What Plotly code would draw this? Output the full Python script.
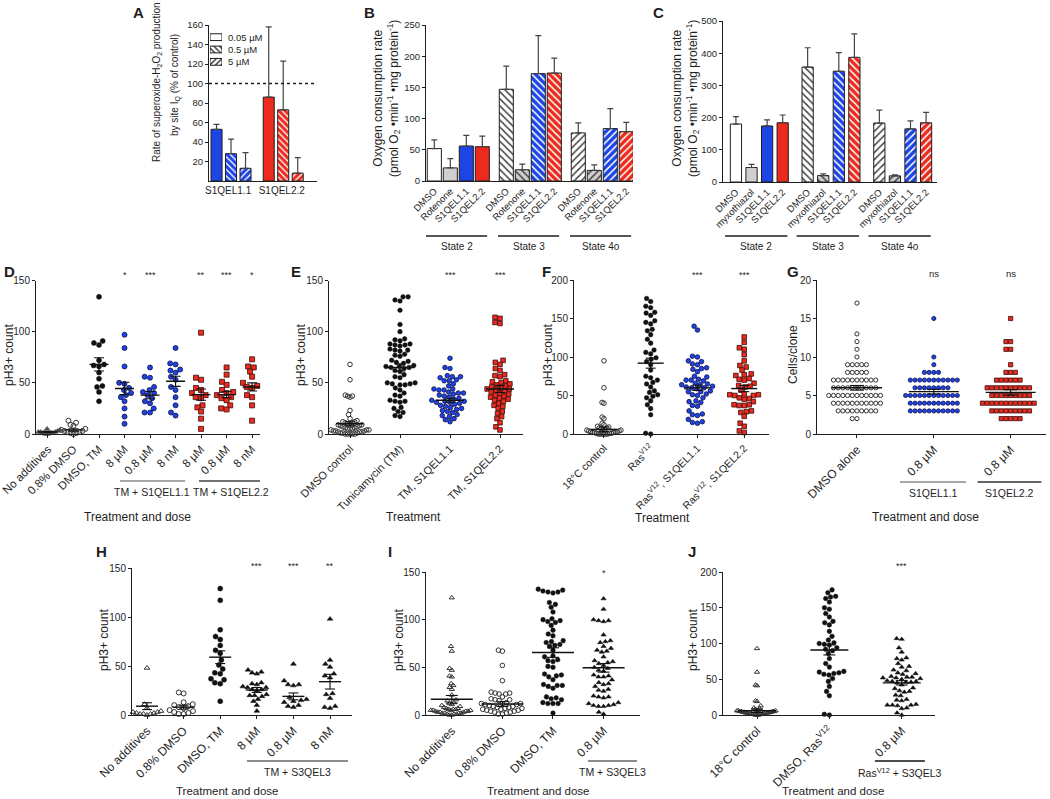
import math
import plotly.graph_objects as go

W, H = 1050, 799
FONT = "Liberation Sans, Arial, sans-serif"
BLUE = "#1d45e6"
RED = "#ec2a1d"
LGRAY = "#cfcfcf"
INK = "#1e1e1e"

# ======================= DATA =======================
# Panel A: superoxide-H2O2 production by site IQ (% of control)
A_compounds = ["S1QEL1.1", "S1QEL2.2"]
A_doses = ["0.05 µM", "0.5 µM", "5 µM"]
A_rate = [[53, 28, 13], [86, 73, 8]]
A_err = [[5, 15, 16], [72, 50, 16]]

# Panels B, C: oxygen consumption rate
BC_states = ["State 2", "State 3", "State 4o"]
B_treatments = ["DMSO", "Rotenone", "S1QEL1.1", "S1QEL2.2"]
B_rate = [[52, 21, 56, 55], [147, 18, 172, 173], [77, 17, 84, 79]]
B_err = [[14, 15, 17, 17], [37, 9, 61, 24], [16, 9, 32, 15]]
C_treatments = ["DMSO", "myxothiazol", "S1QEL1.1", "S1QEL2.2"]
C_rate = [[180, 45, 174, 184], [357, 20, 344, 387], [183, 19, 165, 184]]
C_err = [[23, 10, 19, 24], [60, 5, 58, 73], [40, 3, 25, 32]]

# Panel D
D_labels = ["No additives", "0.8% DMSO", "DMSO, TM", "8 µM", "0.8 µM", "8 nM", "8 µM", "0.8 µM", "8 nM"]
D_values = [
    [1, 2, 3, 0, 4, 2, 1, 3, 5, 2, 1, 0],
    [13, 11, 9, 8, 5, 3, 2, 1, 4, 0, 2, 3, 1],
    [134, 91, 89, 87, 72, 68, 67, 66, 60, 54, 47, 46, 41, 32],
    [97, 84, 66, 50, 49, 45, 43, 40, 38, 36, 32, 25, 17, 10],
    [65, 56, 55, 46, 43, 41, 40, 38, 35, 32, 30, 25, 21, 21],
    [84, 69, 68, 63, 62, 60, 56, 53, 46, 43, 36, 28, 21, 18],
    [99, 55, 53, 45, 43, 40, 38, 36, 35, 28, 26, 22, 15, 5],
    [65, 58, 51, 48, 43, 41, 40, 38, 36, 35, 33, 28, 25, 24],
    [73, 66, 65, 61, 56, 50, 47, 46, 45, 38, 36, 28, 13],
]
D_mean = [2, 4, 68, 44.5, 38, 51.5, 38.5, 38.5, 46]
D_sem = [0.6, 1.2, 6.5, 6, 3.5, 5, 5.5, 3, 4]
D_sig = ["", "", "", "*", "***", "", "**", "***", "*"]
D_groups = ["TM + S1QEL1.1", "TM + S1QEL2.2"]

# Panel E
E_labels = ["DMSO control", "Tunicamycin (TM)", "TM, S1QEL1.1", "TM, S1QEL2.2"]
E_values = [
    [68, 53, 38, 37, 37, 36, 23, 19, 15, 13, 12, 12, 11, 11, 10, 10, 9, 9, 8, 8, 7, 7, 6, 6, 5, 5, 5,
     4, 4, 4, 3, 3, 3, 2, 2, 2, 1, 1, 1, 0, 0, 0, 0, 0],
    [134, 134, 131, 130, 121, 107, 100, 93, 92, 91, 88, 88, 87, 87, 86, 83, 82, 82, 81, 78, 77, 76, 72,
     71, 70, 69, 67, 66, 66, 65, 65, 64, 62, 61, 58, 56, 55, 50, 50, 49, 49, 48, 48, 45, 43, 40, 38, 37,
     33, 32, 32, 31, 26, 25, 22, 21, 18, 17],
    [74, 65, 64, 57, 56, 56, 55, 53, 52, 52, 49, 47, 44, 44, 43, 43, 41, 40, 40, 39, 38, 37, 36, 35, 34,
     33, 32, 32, 31, 31, 30, 29, 28, 27, 26, 25, 24, 23, 22, 21, 19, 18, 17, 15, 14, 12],
    [114, 113, 109, 108, 72, 70, 68, 64, 62, 58, 57, 56, 52, 51, 50, 49, 48, 47, 46, 45, 44, 44, 43, 42,
     41, 40, 39, 38, 37, 36, 35, 34, 33, 32, 30, 28, 27, 25, 22, 20, 17, 15, 11, 7, 4],
]
E_mean = [10, 65, 33, 44]
E_sem = [2, 3.5, 2, 3.5]
E_sig = ["", "", "***", "***"]

# Panel F
F_labels = ["18°C control", "Ras<sup>V12</sup>", "Ras<sup>V12</sup>, S1QEL1.1", "Ras<sup>V12</sup>, S1QEL2.2"]
F_values = [
    [95, 60, 41, 40, 22, 20, 14, 12, 10, 9, 8, 8, 7, 6, 6, 5, 5, 4, 4, 3, 3, 3, 2, 2, 2, 1, 1, 1,
     0, 0, 0, 0, 0, 0],
    [176, 172, 166, 164, 158, 157, 154, 147, 145, 143, 136, 134, 129, 123, 118, 109, 106, 104, 99, 97,
     94, 90, 83, 75, 73, 70, 67, 65, 61, 56, 54, 51, 49, 47, 43, 38, 33, 25, 1, 0],
    [140, 135, 101, 100, 95, 94, 91, 90, 86, 85, 84, 81, 75, 74, 71, 70, 70, 69, 66, 65, 64, 64, 62, 61,
     60, 60, 59, 56, 55, 55, 52, 51, 50, 47, 43, 42, 41, 37, 36, 30, 26, 25, 24, 19, 16, 15, 14],
    [126, 119, 112, 110, 103, 95, 89, 87, 83, 78, 77, 76, 72, 71, 70, 66, 63, 62, 61, 57, 52, 51, 51, 50,
     50, 47, 46, 45, 42, 38, 38, 37, 37, 30, 29, 28, 23, 14, 10, 4, 2],
]
F_mean = [6, 92, 60, 59]
F_sem = [3, 6.5, 3.5, 4]
F_sig = ["", "", "***", "***"]

# Panel G
G_labels = ["DMSO alone", "0.8 µM", "0.8 µM"]
G_values = [
    [17, 13, 12, 11, 10, 9, 9, 9, 9, 9, 8, 8, 8, 8, 8, 7, 7, 7, 7, 7, 7, 7, 7, 7, 7,
     6, 6, 6, 6, 6, 6, 6, 6, 6, 6, 5, 5, 5, 5, 5, 5, 5, 5, 5, 5, 5, 5,
     4, 4, 4, 4, 4, 4, 4, 4, 4, 4, 4, 3, 3, 3, 3, 3, 3, 3, 3, 3, 2, 2],
    [15, 10, 9, 8, 8, 8, 8, 7, 7, 7, 7, 7, 7, 7, 7, 7, 7, 7, 6, 6, 6, 6, 6, 6, 6, 6,
     5, 5, 5, 5, 5, 5, 5, 5, 5, 5, 5, 5, 4, 4, 4, 4, 4, 4, 4, 4, 4, 4, 4,
     3, 3, 3, 3, 3, 3, 3, 3, 3, 3, 3],
    [15, 12, 12, 11, 11, 9, 8, 8, 8, 7, 7, 7, 7, 7, 7, 6, 6, 6, 6, 6, 6, 6, 6, 6, 6,
     5, 5, 5, 5, 5, 5, 5, 5, 5, 4, 4, 4, 4, 4, 4, 4, 4, 4, 4, 4, 4,
     3, 3, 3, 3, 3, 3, 3, 3, 3, 2, 2, 2, 2, 2],
]
G_mean = [6.0, 5.5, 5.4]
G_sem = [0.3, 0.3, 0.35]
G_sig = ["", "ns", "ns"]
G_groups = ["S1QEL1.1", "S1QEL2.2"]

# Panel H
H_labels = ["No additives", "0.8% DMSO", "DMSO, TM", "8 µM", "0.8 µM", "8 nM"]
H_values = [
    [48, 11, 7, 4, 3, 3, 2, 2, 1, 1, 1, 0],
    [23, 22, 13, 11, 10, 9, 8, 7, 5, 4, 3, 2, 1, 1],
    [129, 117, 87, 80, 77, 71, 66, 63, 56, 51, 47, 43, 42, 37, 36, 33, 32, 14],
    [46, 44, 43, 42, 33, 32, 31, 29, 28, 28, 26, 26, 25, 21, 20, 20, 19, 16, 14, 10, 4],
    [52, 35, 31, 31, 30, 18, 16, 15, 14, 13, 10, 9, 8],
    [98, 56, 52, 49, 42, 40, 38, 22, 21, 17, 9, 8, 7],
]
H_mean = [9, 8, 59, 25.5, 19, 34]
H_sem = [3.5, 2, 6.5, 2.5, 3.5, 7.5]
H_sig = ["", "", "", "***", "***", "**"]
H_group = "TM + S3QEL3"

# Panel I
I_labels = ["No additives", "0.8% DMSO", "DMSO, TM", "0.8 µM"]
I_values = [
    [123, 72, 67, 49, 47, 41, 40, 33, 31, 29, 27, 21, 16, 15, 13, 12, 11, 10, 9, 8, 7, 7, 6, 6, 6,
     5, 5, 5, 5, 4, 4, 4, 3, 3, 3, 2, 2, 2, 2, 1, 1, 1, 0, 0],
    [68, 67, 52, 36, 24, 23, 23, 22, 22, 19, 17, 16, 16, 15, 13, 12, 12, 12, 11, 11, 10, 9, 9, 8, 8,
     7, 7, 6, 6, 5, 5, 4, 4, 3, 3, 2, 1, 1],
    [132, 131, 130, 129, 129, 128, 118, 116, 113, 108, 101, 100, 99, 98, 97, 94, 89, 85, 83, 78, 77,
     76, 74, 73, 72, 68, 62, 61, 58, 57, 56, 51, 50, 43, 42, 41, 40, 37, 32, 31, 31, 30, 28, 19, 18,
     17, 16, 13, 12, 12, 12, 2],
    [122, 111, 100, 99, 99, 98, 84, 78, 77, 76, 72, 70, 68, 67, 66, 61, 57, 56, 55, 54, 52, 50, 49, 47,
     46, 42, 41, 40, 40, 37, 34, 33, 32, 30, 27, 26, 25, 20, 19, 19, 18, 13, 12, 11, 10, 10, 9, 9, 3, 1],
]
I_mean = [16.5, 11.5, 65.5, 49.5]
I_sem = [4, 2.5, 5, 4.5]
I_sig = ["", "", "", "*"]
I_group = "TM + S3QEL3"

# Panel J
J_labels = ["18°C control", "DMSO, Ras<sup>V12</sup>", "0.8 µM"]
J_values = [
    [93, 60, 42, 41, 20, 19, 13, 10, 9, 8, 7, 7, 6, 6, 6, 5, 5, 5, 5, 4, 4, 4, 4, 3, 3, 3, 3, 3,
     2, 2, 2, 2, 2, 1, 1, 1, 1, 0, 0, 0],
    [175, 171, 166, 165, 163, 158, 150, 148, 142, 137, 131, 129, 126, 117, 110, 105, 101, 100, 99, 98,
     94, 92, 90, 86, 79, 72, 67, 61, 60, 59, 58, 57, 56, 51, 47, 40, 33, 27, 1, 0],
    [107, 106, 94, 88, 80, 79, 77, 72, 68, 67, 63, 62, 59, 58, 57, 54, 53, 53, 52, 52, 51, 50, 48, 47,
     47, 46, 46, 45, 42, 38, 37, 34, 33, 32, 28, 27, 22, 21, 20, 15, 14, 14, 14, 13, 10, 9, 3, 0],
]
J_mean = [6, 91, 45]
J_sem = [2.5, 7, 3]
J_sig = ["", "", "***"]
J_group = "Ras<sup>V12</sup> + S3QEL3"

# ======================= LAYOUT HELPERS =======================
fig = go.Figure()
lay = dict(template="none", width=W, height=H, autosize=False,
           margin=dict(l=0, r=0, t=0, b=0, pad=0, autoexpand=False),
           paper_bgcolor="white", plot_bgcolor="white",
           font=dict(family=FONT, size=10, color=INK), showlegend=False)
annotations, shapes = [], []
PANELS = {}


def fx(p):
    return p / W


def fy(p):
    return 1 - p / H


def axnames(n):
    return ("x" if n == 1 else f"x{n}", "y" if n == 1 else f"y{n}",
            "xaxis" if n == 1 else f"xaxis{n}", "yaxis" if n == 1 else f"yaxis{n}")


def make_axes(n, xpx, ypx, xr, yr, xkw=None, ykw=None, yfont=9.5):
    xn, yn, xk, yk = axnames(n)
    base = dict(showgrid=False, zeroline=False, fixedrange=True, showline=True, linecolor=INK,
                linewidth=1, ticks="outside", ticklen=3, tickwidth=1, tickcolor=INK,
                automargin=False, tickfont=dict(size=yfont, color=INK, family=FONT))
    xa = dict(base)
    xa.update(domain=[fx(xpx[0]), fx(xpx[1])], range=xr, anchor=yn)
    xa.update(xkw or {})
    ya = dict(base)
    ya.update(domain=[fy(ypx[1]), fy(ypx[0])], range=yr, anchor=xn)
    ya.update(ykw or {})
    lay[xk] = xa
    lay[yk] = ya
    PANELS[n] = dict(xn=xn, yn=yn, xs=(xpx[1] - xpx[0]) / (xr[1] - xr[0]),
                     ys=(ypx[1] - ypx[0]) / (yr[1] - yr[0]))


def ann(x, y, text, size=10, angle=0, bold=False, xanchor="center", yanchor="middle", xref="paper",
        yref="paper", color=INK):
    annotations.append(dict(
        x=fx(x) if xref == "paper" else x, y=fy(y) if yref == "paper" else y, xref=xref, yref=yref,
        text=f"<b>{text}</b>" if bold else text, showarrow=False, textangle=angle,
        xanchor=xanchor, yanchor=yanchor, font=dict(size=size, color=color, family=FONT)))


def group_line(xn, x0, x1, ypx, label, color=INK, size=10.5):
    shapes.append(dict(type="line", xref=xn, yref="paper", x0=x0, x1=x1, y0=fy(ypx), y1=fy(ypx),
                       line=dict(color=color, width=1.3)))
    ann((x0 + x1) / 2, ypx + 11, label, size=size, xref=xn)


def swarm(vals, d, ys, maxw):
    ypx = [v * ys for v in vals]
    order = sorted(range(len(vals)), key=lambda i: vals[i])
    offs = [0.0] * len(vals)
    placed = []
    for i in order:
        y = ypx[i]
        intervals, cands = [], [0.0]
        for (xj, yj) in placed:
            dy = abs(y - yj)
            if dy < d:
                dx = math.sqrt(d * d - dy * dy)
                intervals.append((xj - dx, xj + dx))
                cands += [xj - dx, xj + dx]
        cands.sort(key=lambda c: (abs(c), c))
        for c in cands:
            if all(not (a + 1e-6 < c < b - 1e-6) for a, b in intervals):
                offs[i] = c
                break
        placed.append((offs[i], y))
    m = max(abs(o) for o in offs) if offs else 0
    if m > maxw:
        offs = [o * maxw / m for o in offs]
    return offs


STY = {
    "open_circle": dict(symbol="circle-open", color="#333", line=dict(width=1, color="#333")),
    "black": dict(symbol="circle", color="#111", line=dict(width=0.5, color="#111")),
    "blue": dict(symbol="circle", color=BLUE, line=dict(width=0.8, color="#0c0c4a")),
    "red": dict(symbol="square", color=RED, line=dict(width=0.8, color="#3c0c0c")),
    "tri": dict(symbol="triangle-up", color="#111", line=dict(width=0.5, color="#111")),
    "open_tri": dict(symbol="triangle-up-open", color="#333", line=dict(width=1, color="#333")),
    "gray_tri": dict(symbol="triangle-up", color="#555", line=dict(width=0.5, color="#333")),
}


def scatter_panel(n, values, means, sems, styles, labels, sig, sig_y, size, mean_hw, cap_hw, maxw,
                  ticksize=11.5):
    P = PANELS[n]
    xn, yn = P["xn"], P["yn"]
    for i, vals in enumerate(values):
        offs = swarm(vals, size + 0.5, P["ys"], maxw)
        st = STY[styles[i]]
        fig.add_trace(go.Scatter(
            x=[i + o / P["xs"] for o in offs], y=vals, mode="markers", xaxis=xn, yaxis=yn,
            cliponaxis=False, hoverinfo="skip",
            marker=dict(symbol=st["symbol"], size=size, color=st["color"], line=st["line"])))
    mx, my, sx, sy = [], [], [], []
    for i, (m, s) in enumerate(zip(means, sems)):
        hw = mean_hw / P["xs"]
        cw = cap_hw / P["xs"]
        mx += [i - hw, i + hw, None]
        my += [m, m, None]
        sx += [i - cw, i + cw, None, i, i, None, i - cw, i + cw, None]
        sy += [m + s, m + s, None, m - s, m + s, None, m - s, m - s, None]
    fig.add_trace(go.Scatter(x=mx, y=my, mode="lines", xaxis=xn, yaxis=yn, cliponaxis=False,
                             line=dict(color="#111", width=1.4), hoverinfo="skip"))
    fig.add_trace(go.Scatter(x=sx, y=sy, mode="lines", xaxis=xn, yaxis=yn, cliponaxis=False,
                             line=dict(color="#111", width=1.1), hoverinfo="skip"))
    lay[axnames(n)[2]].update(tickmode="array", tickvals=list(range(len(labels))), ticktext=labels,
                              tickangle=-45, tickfont=dict(size=ticksize, color=INK, family=FONT))
    for i, s in enumerate(sig):
        if s:
            ann(i, sig_y, s, size=9 if s != "ns" else 9.5, xref=xn)


PAT = dict(fgcolor=INK, fgopacity=1, fillmode="overlay", size=4.5, solidity=0.3)

# ======================= PANEL A =======================
make_axes(1, (209, 317), (25, 181), [-0.52, 6.93], [0, 160],
          xkw=dict(ticks="", tickmode="array", tickvals=[0.8, 4.5], ticktext=A_compounds,
                   tickfont=dict(size=10, color=INK, family=FONT)),
          ykw=dict(tickmode="array", tickvals=list(range(20, 161, 20))))
A_shapes = ["", "\\", "/"]
ax, ay, ae, ac, ap = [], [], [], [], []
for g, comp in enumerate(A_compounds):
    for d in range(len(A_doses)):
        ax.append(g * 3.6 + d)
        ay.append(A_rate[g][d])
        ae.append(A_err[g][d])
        ac.append(BLUE if g == 0 else RED)
        ap.append(A_shapes[d])
fig.add_trace(go.Bar(
    x=ax, y=ay, width=0.76, xaxis="x", yaxis="y", hoverinfo="skip",
    marker=dict(color=ac, line=dict(color=INK, width=1), pattern=dict(PAT, shape=ap)),
    error_y=dict(type="data", symmetric=False, array=ae, arrayminus=[0] * len(ae), color="#444",
                 thickness=1.2, width=3)))
shapes.append(dict(type="line", xref="x domain", yref="y", x0=0, x1=1, y0=100, y1=100,
                   line=dict(color=INK, width=1.5, dash="dot")))
# legend drawn as a tiny bar chart
make_axes(11, (210, 222), (31, 68), [0, 1], [2.5, -0.5],
          xkw=dict(visible=False), ykw=dict(visible=False))
fig.add_trace(go.Bar(
    x=[1, 1, 1], y=[0, 1, 2], orientation="h", width=0.55, xaxis="x11", yaxis="y11",
    hoverinfo="skip",
    marker=dict(color="white", line=dict(color=INK, width=1),
                pattern=dict(PAT, shape=A_shapes, size=4))))
for i, lab in enumerate(A_doses):
    ann(226, i, lab, size=9.5, xanchor="left", yref="y11")
ann(157, 82, "Rate of superoxide-H<sub>2</sub>O<sub>2</sub> production", size=10, angle=-90)
ann(175, 85, "by site I<sub>Q</sub> (% of control)", size=10, angle=-90)
ann(138, 13, "A", size=15, bold=True)


# ======================= PANELS B, C =======================
def bar_panel(n, treatments, rate, err, gap, width, line_lo, line_hi):
    xn, yn = PANELS[n]["xn"], PANELS[n]["yn"]
    bx, by, be, bc, bp, tl = [], [], [], [], [], []
    tcols = ["white", LGRAY, BLUE, RED]
    spat = ["", "\\", "/"]
    for g in range(len(BC_states)):
        for t in range(len(treatments)):
            bx.append(g * (len(treatments) + gap) + t)
            by.append(rate[g][t])
            be.append(err[g][t])
            bc.append(tcols[t])
            bp.append(spat[g])
            tl.append(treatments[t])
    fig.add_trace(go.Bar(
        x=bx, y=by, width=width, xaxis=xn, yaxis=yn, hoverinfo="skip",
        marker=dict(color=bc, line=dict(color=INK, width=1), pattern=dict(PAT, shape=bp, size=5)),
        error_y=dict(type="data", symmetric=False, array=be, arrayminus=[0] * len(be),
                     color="#444", thickness=1.2, width=3)))
    lay[axnames(n)[2]].update(tickmode="array", tickvals=bx, ticktext=tl, tickangle=-45, ticks="",
                              tickfont=dict(size=9.5, color=INK, family=FONT))
    for g, st in enumerate(BC_states):
        first = g * (len(treatments) + gap)
        group_line(xn, first + line_lo, first + len(treatments) - 1 + line_hi, 236, st, size=10)


make_axes(2, (426, 633), (25, 181), [-0.52, 12.42], [0, 250],
          ykw=dict(tickmode="array", tickvals=list(range(0, 251, 50))))
bar_panel(2, B_treatments, B_rate, B_err, 0.5, 0.88, -0.52, 0.3)
make_axes(3, (723, 937), (21, 182), [-0.83, 12.9], [0, 500],
          ykw=dict(tickmode="array", tickvals=list(range(0, 501, 100))))
bar_panel(3, C_treatments, C_rate, C_err, 0.6, 0.72, -0.7, 0.3)
OCR = "Oxygen consumption rate<br>(pmol O<sub>2</sub> •min<sup>-1</sup> •mg protein<sup>-1</sup>)"
ann(386, 99, OCR, size=12, angle=-90)
ann(685, 99, OCR, size=12, angle=-90)
ann(369, 13, "B", size=15, bold=True)
ann(658, 13, "C", size=15, bold=True)

# ======================= ROW 2 =======================
YF = 10
make_axes(4, (36, 260), (280.5, 434), [-0.47, 8.31], [0, 150],
          ykw=dict(tickmode="array", tickvals=[0, 50, 100, 150]), yfont=YF)
scatter_panel(4, D_values, D_mean, D_sem,
              ["gray_tri", "open_circle", "black", "blue", "blue", "blue", "red", "red", "red"],
              D_labels, D_sig, 275, 5, 9.5, 5, 12)
group_line("x4", 3 - 0.18, 5 + 0.37, 481, D_groups[0], color="#8a8a8a")
group_line("x4", 6 - 0.08, 8 + 0.39, 481, D_groups[1], color="#444")
ann(9, 355, "pH3+ count", size=12, angle=-90)
ann(137, 517, "Treatment and dose", size=12)
ann(9, 271, "D", size=15, bold=True)

make_axes(5, (329, 523), (280.5, 434), [-0.42, 3.46], [0, 150],
          ykw=dict(tickmode="array", tickvals=[0, 50, 100, 150]), yfont=YF)
scatter_panel(5, E_values, E_mean, E_sem, ["open_circle", "black", "blue", "red"],
              E_labels, E_sig, 275, 4.6, 14, 5, 19, ticksize=11)
ann(301, 355, "pH3+ count", size=12, angle=-90)
ann(413, 517, "Treatment", size=12)
ann(296, 271, "E", size=15, bold=True)

make_axes(6, (574, 769), (280, 434), [-0.64, 3.53], [0, 200],
          ykw=dict(tickmode="array", tickvals=[0, 50, 100, 150, 200]), yfont=YF)
scatter_panel(6, F_values, F_mean, F_sem, ["open_circle", "black", "blue", "red"],
              F_labels, F_sig, 275, 4.6, 13, 5, 17, ticksize=10.5)
ann(548, 355, "pH3+ count", size=12, angle=-90)
ann(662, 518, "Treatment", size=12)
ann(546, 271, "F", size=15, bold=True)

make_axes(7, (817, 1046), (280, 434), [-0.52, 2.46], [0, 20],
          ykw=dict(tickmode="array", tickvals=[0, 5, 10, 15, 20]), yfont=YF)
scatter_panel(7, G_values, G_mean, G_sem, ["open_circle", "blue", "red"],
              G_labels, G_sig, 274, 4.2, 25, 7, 30, ticksize=12)
group_line("x7", 1 - 0.44, 1 + 0.42, 482, G_groups[0], color="#8a8a8a")
group_line("x7", 2 - 0.43, 2 + 0.40, 482, G_groups[1], color="#333")
ann(793, 355, "Cells/clone", size=12, angle=-90)
ann(925, 517, "Treatment and dose", size=12)
ann(793, 271, "G", size=15, bold=True)

# ======================= ROW 3 =======================
make_axes(8, (132, 352), (568, 715), [-0.41, 5.6], [0, 150],
          ykw=dict(tickmode="array", tickvals=[0, 50, 100, 150]), yfont=YF)
scatter_panel(8, H_values, H_mean, H_sem, ["open_tri", "open_circle", "black", "tri", "tri", "tri"],
              H_labels, H_sig, 566, 5, 11, 5, 14, ticksize=12)
group_line("x8", 3 - 0.27, 5 + 0.49, 761, H_group, color="#666")
ann(104, 640, "pH3+ count", size=12, angle=-90)
ann(227, 791, "Treatment and dose", size=11.5)
ann(101, 551, "H", size=15, bold=True)

make_axes(9, (426, 640), (572, 715), [-0.51, 3.72], [0, 150],
          ykw=dict(tickmode="array", tickvals=[0, 50, 100, 150]), yfont=YF)
scatter_panel(9, I_values, I_mean, I_sem, ["open_tri", "open_circle", "black", "tri"],
              I_labels, I_sig, 573, 4.6, 21, 6, 21, ticksize=12)
group_line("x9", 3 - 0.31, 3 + 0.66, 761, I_group, color="#666")
ann(399, 640, "pH3+ count", size=12, angle=-90)
ann(538, 791, "Treatment and dose", size=11.5)
ann(390, 551, "I", size=15, bold=True)

make_axes(10, (723, 935), (572, 715), [-0.47, 2.46], [0, 200],
          ykw=dict(tickmode="array", tickvals=[0, 50, 100, 150, 200]), yfont=YF)
scatter_panel(10, J_values, J_mean, J_sem, ["open_tri", "black", "tri"],
              J_labels, J_sig, 566, 4.6, 19, 6, 20, ticksize=12)
group_line("x10", 2 - 0.37, 2 + 0.32, 761, J_group, color="#111")
ann(693, 640, "pH3+ count", size=12, angle=-90)
ann(833, 791, "Treatment and dose", size=11.5)
ann(692, 551, "J", size=15, bold=True)

lay["annotations"] = annotations
lay["shapes"] = shapes
lay["bargap"] = 0
fig.update_layout(**lay)
fig.write_html(
    "out.html",
    config={"displayModeBar": False, "staticPlot": True},
    post_script="document.body.style.margin='0';document.body.style.overflow='hidden';",
)
